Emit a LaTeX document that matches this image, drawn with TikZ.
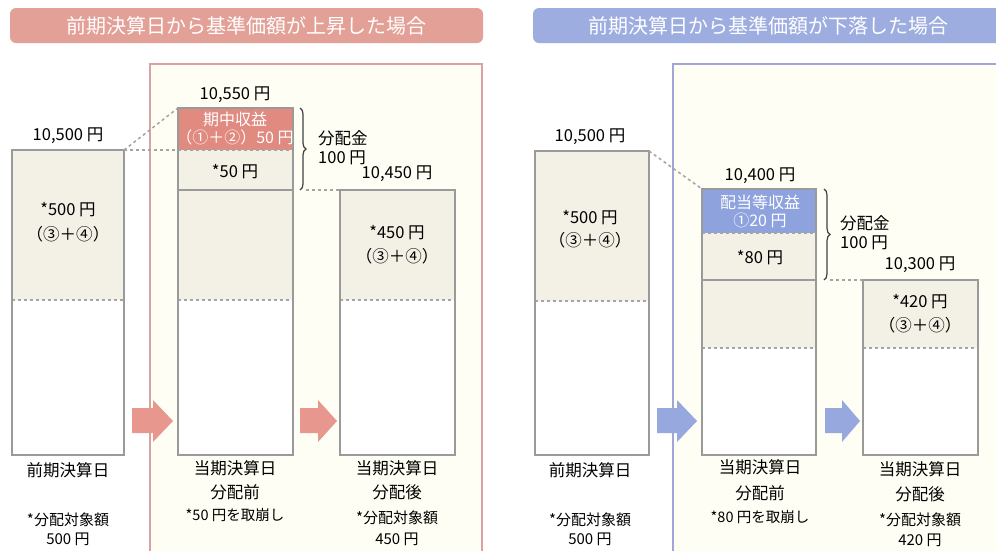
\documentclass[tikz,border=0pt]{standalone}
\usepackage{fontspec}
\setmainfont{Noto Sans CJK JP}
\usetikzlibrary{decorations.pathreplacing}
\definecolor{salmon}{HTML}{E3A097}
\definecolor{redsec}{HTML}{E08A80}
\definecolor{bluet}{HTML}{9DADE0}
\definecolor{bluesec}{HTML}{8EA2DE}
\definecolor{beige}{HTML}{F3F0E6}
\definecolor{cream}{HTML}{FFFEF4}
\definecolor{barline}{HTML}{9A9A9A}
\definecolor{redframe}{HTML}{D9A3A3}
\definecolor{blueframe}{HTML}{A0A6D6}
\definecolor{redarrow}{HTML}{E8978F}
\definecolor{bluearrow}{HTML}{97A8DE}
\begin{document}
\begin{tikzpicture}[x=1pt,y=-1pt,
  lbl/.style={font=\fontsize{16.5}{19}\selectfont, inner sep=0pt, align=center},
  lblw/.style={lbl, text=white, font=\fontsize{16}{18}\selectfont},
  ttl/.style={font=\fontsize{20}{24}\selectfont, text=white, inner sep=0pt},
  barsty/.style={draw=barline, line width=1.5pt},
  dline/.style={draw=barline!90, line width=1.5pt, dash pattern=on 3pt off 3pt},
  bracesty/.style={draw=black!75, line width=1.2pt, decorate, decoration={brace, amplitude=6pt}},
]
\useasboundingbox (0,0) rectangle (996,550);
\fill[white] (0,0) rectangle (996,550);

% ---------- titles ----------
\fill[salmon, rounded corners=6pt] (10,8) rectangle (483,43);
\node[ttl] (t1) at (246,26) {前期決算日から基準価額が上昇した場合};
\fill[bluet, rounded corners=6pt] (533,8) rectangle (1010,43);
\node[ttl] (t2) at (768,26) {前期決算日から基準価額が下落した場合};

% ---------- frames ----------
\fill[cream] (150,64) rectangle (482,560);
\draw[redframe, line width=1.5pt] (150,560) -- (150,64) -- (482,64) -- (482,560);
\fill[cream] (673,64) rectangle (1010,560);
\draw[blueframe, line width=1.5pt] (673,560) -- (673,64) -- (1010,64);

% ================= LEFT PANEL =================
% Bar A
\fill[beige] (12,150) rectangle (124,300);
\fill[white] (12,300) rectangle (124,455);
\draw[dline] (12,300) -- (124,300);
\draw[barsty] (12,150) rectangle (124,455);
\coordinate (aTR) at (124,150);
% Bar B
\fill[redsec] (178,108) rectangle (293,150);
\fill[beige] (178,150) rectangle (293,300);
\fill[white] (178,300) rectangle (293,455);
\draw[dline] (178,150) -- (293,150);
\draw[barsty] (178,190) -- (293,190);
\draw[dline] (178,300) -- (293,300);
\draw[barsty] (178,108) rectangle (293,455);
\coordinate (bTL) at (178,108);
\coordinate (bML) at (178,150);
% Bar C
\fill[beige] (340,190) rectangle (455,300);
\fill[white] (340,300) rectangle (455,455);
\draw[dline] (340,300) -- (455,300);
\draw[barsty] (340,190) rectangle (455,455);
\coordinate (cTL) at (340,190);
% brace
\coordinate (br1a) at (300,108);
\coordinate (br1b) at (300,190);
\draw[bracesty] (br1a) -- (br1b);
\coordinate (br1e) at (306,190);
% connectors
\draw[dline] (aTR) -- (bTL);
\draw[dline] (aTR) -- (bML);
\draw[dline] (br1e) -- (cTL);
% arrows
\fill[redarrow] (132,408) -- (153,408) -- (153,400) -- (173,421) -- (153,442) -- (153,433) -- (132,433) -- cycle;
\fill[redarrow] (300,408) -- (318,408) -- (318,400) -- (337,421) -- (318,442) -- (318,433) -- (300,433) -- cycle;
% texts
\node[lbl] (a1) at (68,136) {10,500 円};
\node[lbl, font=\fontsize{16.5}{25}\selectfont] (a2) at (68,222) {*500 円\\（③＋④）};
\node[lbl] (b1) at (235,95) {10,550 円};
\node[lblw] (b2) at (235,129) {期中収益\\（①＋②）50 円};
\node[lbl] (b3) at (235,172) {*50 円};
\node[lbl, align=left, anchor=west] (m1) at (318,148) {分配金\\100 円};
\node[lbl] (c1) at (397,174) {10,450 円};
\node[lbl, font=\fontsize{16.5}{24}\selectfont] (c2) at (397,245) {*450 円\\（③＋④）};
\node[lbl] (a3) at (68,470) {前期決算日};
\node[lbl, font=\fontsize{15}{19}\selectfont] (a4) at (68,529) {*分配対象額\\500 円};
\node[lbl, font=\fontsize{16.5}{24}\selectfont] (b4) at (235,480) {当期決算日\\分配前};
\node[lbl, font=\fontsize{14.5}{17}\selectfont] (b5) at (235,515) {*50 円を取崩し};
\node[lbl, font=\fontsize{16.5}{24}\selectfont] (c3) at (397,480) {当期決算日\\分配後};
\node[lbl, font=\fontsize{15}{21}\selectfont] (c4) at (397,528) {*分配対象額\\450 円};

% ================= RIGHT PANEL =================
% Bar D
\fill[beige] (535,151) rectangle (649,301);
\fill[white] (535,301) rectangle (649,455);
\draw[dline] (535,301) -- (649,301);
\draw[barsty] (535,151) rectangle (649,455);
\coordinate (dTR) at (649,151);
% Bar E
\fill[bluesec] (702,189) rectangle (816,233);
\fill[beige] (702,233) rectangle (816,348);
\fill[white] (702,348) rectangle (816,455);
\draw[dline] (702,233) -- (816,233);
\draw[barsty] (702,280) -- (816,280);
\draw[dline] (702,348) -- (816,348);
\draw[barsty] (702,189) rectangle (816,455);
\coordinate (eTL) at (702,189);
% Bar F
\fill[beige] (863,280) rectangle (978,348);
\fill[white] (863,348) rectangle (978,455);
\draw[dline] (863,348) -- (978,348);
\draw[barsty] (863,280) rectangle (978,455);
\coordinate (fTL) at (863,280);
% brace
\coordinate (br2a) at (824,189);
\coordinate (br2b) at (824,280);
\draw[bracesty] (br2a) -- (br2b);
\coordinate (br2e) at (830,280);
% connectors
\draw[dline] (dTR) -- (eTL);
\draw[dline] (br2e) -- (fTL);
% arrows
\fill[bluearrow] (657,408) -- (677,408) -- (677,400) -- (697,421) -- (677,442) -- (677,433) -- (657,433) -- cycle;
\fill[bluearrow] (825,408) -- (842,408) -- (842,400) -- (860,421) -- (842,442) -- (842,433) -- (825,433) -- cycle;
% texts
\node[lbl] (d1) at (590,137) {10,500 円};
\node[lbl, font=\fontsize{16.5}{23}\selectfont] (d2) at (590,229) {*500 円\\（③＋④）};
\node[lbl] (e1) at (760,176) {10,400 円};
\node[lblw] (e2) at (760,211) {配当等収益\\①20 円};
\node[lbl] (e3) at (760,258) {*80 円};
\node[lbl, align=left, anchor=west] (m2) at (840,233) {分配金\\100 円};
\node[lbl] (f1) at (920,265) {10,300 円};
\node[lbl, font=\fontsize{16.5}{24}\selectfont] (f2) at (920,314) {*420 円\\（③＋④）};
\node[lbl] (d3) at (590,470) {前期決算日};
\node[lbl, font=\fontsize{15}{19}\selectfont] (d4) at (590,529) {*分配対象額\\500 円};
\node[lbl, font=\fontsize{16.5}{26}\selectfont] (e4) at (760,480) {当期決算日\\分配前};
\node[lbl, font=\fontsize{14.5}{17}\selectfont] (e5) at (760,517) {*80 円を取崩し};
\node[lbl, font=\fontsize{16.5}{25}\selectfont] (f3) at (920,482) {当期決算日\\分配後};
\node[lbl, font=\fontsize{15}{20}\selectfont] (f4) at (920,530) {*分配対象額\\420 円};
\end{tikzpicture}
\end{document}
